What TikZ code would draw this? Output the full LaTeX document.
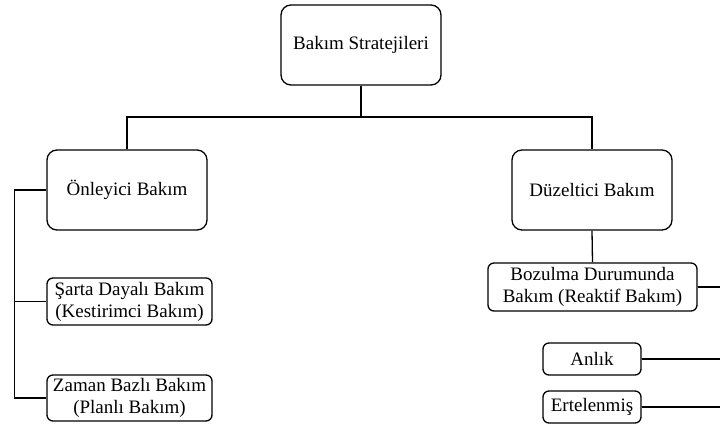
\documentclass[tikz,border=0pt]{standalone}
\usepackage{fontspec}
\setmainfont{Liberation Serif}
\begin{document}
\begin{tikzpicture}[x=1pt,y=-1pt,
  bigbox/.style={draw, line width=1.3pt, rounded corners=10pt, minimum width=160pt, minimum height=80pt, align=center, inner sep=2pt, font=\fontsize{19}{22}\selectfont},
  smallbox/.style={draw, line width=1.3pt, rounded corners=6pt, align=center, inner sep=2pt, font=\fontsize{19}{22}\selectfont},
  conn/.style={line width=1.3pt}]
\useasboundingbox (0,0) rectangle (720,425);
\node[bigbox] (top) at (361,45) {Bakım Stratejileri};
\node[bigbox] (onl) at (127,190) {Önleyici Bakım};
\node[bigbox] (duz) at (592,190) {Düzeltici Bakım};
\node[smallbox, minimum width=165pt, minimum height=47pt] (sar) at (129.5,301.5) {Şarta Dayalı Bakım\\(Kestirimci Bakım)};
\node[smallbox, minimum width=165pt, minimum height=46pt] (zam) at (129.5,398) {Zaman Bazlı Bakım\\(Planlı Bakım)};
\node[smallbox, minimum width=209pt, minimum height=48pt] (boz) at (592.5,287) {Bozulma Durumunda\\Bakım (Reaktif Bakım)};
\node[smallbox, minimum width=98pt, minimum height=32pt] (anl) at (592,359) {Anlık};
\node[smallbox, minimum width=98pt, minimum height=32pt] (ert) at (592,407) {Ertelenmiş};
\coordinate (j) at (361,117);
\coordinate (r1) at (720,287);
\coordinate (r2) at (720,359);
\coordinate (r3) at (720,407);
\draw[conn] (top.south) -- (j);
\draw[conn] (onl.north) |- (j) -| (duz.north);
\draw[conn] (onl.west) -- ++(-32,0) |- (zam.west);
\draw[conn] (sar.west) -- ++(-32,0);
\draw[conn] (duz.south) -- (boz.north);
\draw[conn] (boz.east) -- (r1);
\draw[conn] (anl.east) -- (r2);
\draw[conn] (ert.east) -- (r3);
\end{tikzpicture}
\end{document}
